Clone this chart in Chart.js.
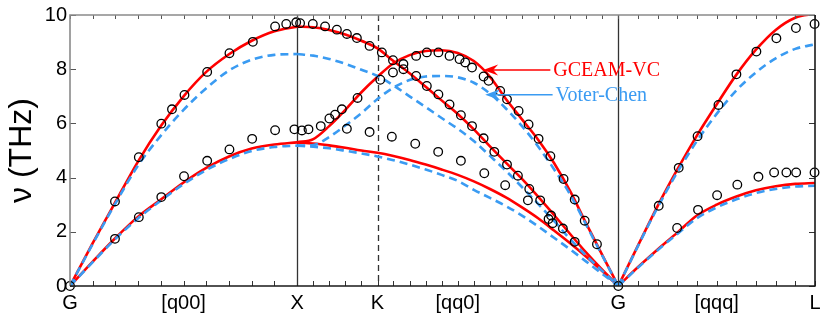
<!DOCTYPE html>
<html>
<head>
<meta charset="utf-8">
<script src="https://cdn.jsdelivr.net/npm/chart.js@4.4.0/dist/chart.umd.min.js"></script>
<style>
  html, body { margin: 0; padding: 0; background: #fff; }
</style>
</head>
<body>
<canvas id="phononChart" width="830" height="325"></canvas>
<script>
// Path positions (2pi/a units): G - X - K - G - L
const tickPos = [0, 0.5, 1, 1.354, 1.707, 2.414, 2.847, 3.280];
const tickLabels = ['G', '[q00]', 'X', 'K', '[qq0]', 'G', '[qqq]', 'L'];
const yTicks = [0, 2, 4, 6, 8, 10];
const solidLines = [1, 2.414];   // X and G
const dashedLines = [1.354];     // K

// G -> X  [q00]
const qGX = [0, 0.1, 0.2, 0.3, 0.4, 0.5, 0.6, 0.7, 0.8, 0.9, 1.0];
const gceamGX_L = [0, 1.58, 3.1, 4.6, 5.9, 7.0, 7.9, 8.55, 9.05, 9.4, 9.57];
const gceamGX_T = [0, 0.9, 1.77, 2.56, 3.19, 3.82, 4.36, 4.78, 5.07, 5.22, 5.3];
const voterGX_L = [0, 1.55, 3.05, 4.45, 5.55, 6.5, 7.3, 7.95, 8.35, 8.53, 8.56];
const voterGX_T = [0, 0.88, 1.74, 2.5, 3.15, 3.76, 4.28, 4.68, 4.98, 5.13, 5.18];

// X -> K -> G  [qq0]
const qXG = [1.000, 1.071, 1.141, 1.212, 1.283, 1.354, 1.424, 1.495, 1.566, 1.636, 1.707,
             1.778, 1.849, 1.919, 1.990, 2.061, 2.131, 2.202, 2.273, 2.343, 2.414];
const gceamXG_1 = [9.57, 9.55, 9.45, 9.28, 9.05, 8.77, 8.3, 7.85, 7.35, 6.85, 6.35,
                   5.78, 5.15, 4.55, 3.95, 3.3, 2.62, 1.92, 1.23, 0.6, 0];
const gceamXG_2 = [5.3, 5.42, 5.9, 6.5, 7.15, 7.72, 8.22, 8.52, 8.67, 8.7, 8.6,
                   8.3, 7.72, 6.9, 6.15, 5.4, 4.54, 3.5, 2.3, 1.15, 0];
const gceamXG_3 = [5.3, 5.26, 5.19, 5.1, 5.0, 4.92, 4.8, 4.65, 4.48, 4.3, 4.1,
                   3.86, 3.58, 3.27, 2.9, 2.5, 2.05, 1.58, 1.08, 0.55, 0];
const voterXG_1 = [8.56, 8.5, 8.38, 8.2, 7.98, 7.75, 7.4, 7.0, 6.6, 6.2, 5.8,
                   5.35, 4.8, 4.25, 3.65, 3.03, 2.4, 1.73, 1.12, 0.56, 0];
const voterXG_2 = [5.18, 5.2, 5.5, 5.92, 6.38, 6.9, 7.32, 7.6, 7.73, 7.75, 7.7,
                   7.5, 7.1, 6.55, 5.9, 5.15, 4.31, 3.38, 2.25, 1.13, 0];
const voterXG_3 = [5.18, 5.14, 5.08, 4.99, 4.89, 4.78, 4.64, 4.48, 4.3, 4.1, 3.88,
                   3.55, 3.25, 2.95, 2.6, 2.2, 1.78, 1.35, 0.9, 0.45, 0];

// G -> L  [qqq]
const qGL = [2.414, 2.501, 2.587, 2.674, 2.760, 2.847, 2.934, 3.020, 3.107, 3.193, 3.280];
const gceamGL_L = [0, 1.5, 2.95, 4.3, 5.55, 6.7, 7.8, 8.72, 9.45, 9.9, 10.05];
const gceamGL_T = [0, 0.7, 1.35, 1.97, 2.6, 3.0, 3.3, 3.53, 3.68, 3.77, 3.8];
const voterGL_L = [0, 1.48, 2.9, 4.2, 5.35, 6.35, 7.22, 7.88, 8.4, 8.75, 8.92];
const voterGL_T = [0, 0.68, 1.32, 1.92, 2.5, 2.9, 3.2, 3.43, 3.58, 3.67, 3.7];

// Experiment (open circles)
const exptQ = [
  0,
  0.198, 0.303, 0.402, 0.449, 0.504, 0.604, 0.702, 0.805, 0.903, 0.952, 0.996, 1.013,
  0.198, 0.303, 0.402, 0.502, 0.604, 0.702, 0.802, 0.903, 0.988, 1.021, 1.050,
  1.069, 1.123, 1.175, 1.219, 1.263, 1.319, 1.373, 1.422, 1.468, 1.524, 1.571, 1.622,
  1.671, 1.721, 1.770, 1.821, 1.868, 1.924, 1.972, 2.022, 2.070, 2.118, 2.170, 2.222,
  1.104, 1.142, 1.167, 1.197, 1.266, 1.366, 1.422, 1.468, 1.524, 1.571, 1.622, 1.671,
  1.715, 1.740, 1.770, 1.821, 1.843, 1.894, 1.924, 1.975, 2.019, 2.063, 2.115, 2.173,
  2.222, 2.266, 2.320,
  1.219, 1.319, 1.417, 1.520, 1.621, 1.721, 1.824, 1.916, 2.016, 2.107, 2.125,
  2.414,
  2.592, 2.680, 2.763, 2.855, 2.934, 3.022, 3.110, 3.196, 3.278,
  2.673, 2.765, 2.849, 2.938, 3.031, 3.100, 3.154, 3.197, 3.278
];
const exptNu = [
  0,
  3.12, 4.75, 5.99, 6.52, 7.05, 7.9, 8.59, 9.01, 9.58, 9.67, 9.73, 9.7,
  1.74, 2.54, 3.28, 4.05, 4.62, 5.04, 5.43, 5.75, 5.78, 5.74, 5.78,
  9.67, 9.58, 9.46, 9.30, 9.15, 8.86, 8.62, 8.33, 8.0, 7.75, 7.38, 7.07,
  6.7, 6.3, 5.9, 5.45, 4.95, 4.48, 4.07, 3.58, 3.16, 2.6, 2.12, 1.63,
  5.9, 6.18, 6.32, 6.52, 6.94, 7.61, 7.88, 8.19, 8.49, 8.62, 8.62, 8.49,
  8.37, 8.25, 8.06, 7.73, 7.57, 7.2, 6.89, 6.46, 5.96, 5.43, 4.79, 3.95,
  3.19, 2.41, 1.54,
  5.8, 5.68, 5.51, 5.25, 4.95, 4.62, 4.16, 3.72, 3.16, 2.47, 2.32,
  0,
  2.96, 4.36, 5.53, 6.68, 7.81, 8.65, 9.14, 9.52, 9.67,
  2.14, 2.81, 3.35, 3.74, 4.03, 4.19, 4.19, 4.19, 4.19
];

// Legend arrows: [tip q, tip nu, text q]
const labelGceam = 'GCEAM-VC';
const labelVoter = 'Voter-Chen';
const arrowGceam = [1.819, 7.97, 2.128];
const arrowVoter = [1.828, 7.06, 2.138];

const RED = '#ff0000';
const BLUE = '#3a9bf2';

const pts = (xs, ys) => xs.map((x, i) => ({ x: x, y: ys[i] }));

const gceamSet = (xs, ys) => ({
    data: pts(xs, ys),
    showLine: true,
    borderColor: RED,
    borderWidth: 2.6,
    pointRadius: 0,
    cubicInterpolationMode: 'monotone',
    order: 3
});
const voterSet = (xs, ys) => ({
    data: pts(xs, ys),
    showLine: true,
    borderColor: BLUE,
    borderWidth: 2.6,
    borderDash: [8, 5],
    pointRadius: 0,
    cubicInterpolationMode: 'monotone',
    order: 2
});

// Cuadro, marcas de eje y flechas de la leyenda
const framePlugin = {
    id: 'frame',
    beforeDatasetsDraw(chart) {
        const { ctx, chartArea: a, scales: { x } } = chart;
        ctx.save();
        ctx.strokeStyle = '#333';
        ctx.lineWidth = 1.3;
        solidLines.forEach(q => {
            const px = Math.round(x.getPixelForValue(q)) + 0.5;
            ctx.beginPath(); ctx.moveTo(px, a.top); ctx.lineTo(px, a.bottom); ctx.stroke();
        });
        ctx.setLineDash([6, 4]);
        dashedLines.forEach(q => {
            const px = Math.round(x.getPixelForValue(q)) + 0.5;
            ctx.beginPath(); ctx.moveTo(px, a.top); ctx.lineTo(px, a.bottom); ctx.stroke();
        });
        ctx.restore();
    },
    afterDatasetsDraw(chart) {
        const { ctx, chartArea: a, scales: { x, y } } = chart;
        ctx.save();
        // minor ticks along top and bottom
        const minor = [...qGX, ...qXG, ...qGL];
        ctx.lineWidth = 1;
        minor.forEach(q => {
            const px = Math.round(x.getPixelForValue(q)) + 0.5;
            ctx.strokeStyle = '#333';
            ctx.beginPath(); ctx.moveTo(px, a.bottom); ctx.lineTo(px, a.bottom - 5); ctx.stroke();
            ctx.strokeStyle = '#555';
            ctx.beginPath(); ctx.moveTo(px, a.top); ctx.lineTo(px, a.top + 4); ctx.stroke();
        });
        yTicks.forEach(v => {
            const py = Math.round(y.getPixelForValue(v)) + 0.5;
            ctx.strokeStyle = '#555';
            ctx.beginPath(); ctx.moveTo(a.left, py); ctx.lineTo(a.left + 6, py); ctx.stroke();
            ctx.strokeStyle = '#333';
            ctx.beginPath(); ctx.moveTo(a.right, py); ctx.lineTo(a.right - 6, py); ctx.stroke();
        });
        // frame
        ctx.strokeStyle = '#8a8a8a';
        ctx.lineWidth = 1.6;
        ctx.beginPath();
        ctx.moveTo(a.left, a.bottom); ctx.lineTo(a.left, a.top); ctx.lineTo(a.right, a.top);
        ctx.stroke();
        ctx.strokeStyle = '#1a1a1a';
        ctx.lineWidth = 1.6;
        ctx.beginPath();
        ctx.moveTo(a.left, a.bottom); ctx.lineTo(a.right, a.bottom); ctx.lineTo(a.right, a.top);
        ctx.stroke();

        // legend arrows
        const drawArrow = (spec, color, text) => {
            const tipX = x.getPixelForValue(spec[0]);
            const tipY = y.getPixelForValue(spec[1]);
            const txtX = x.getPixelForValue(spec[2]);
            ctx.strokeStyle = color;
            ctx.fillStyle = color;
            ctx.lineWidth = 1.5;
            ctx.beginPath(); ctx.moveTo(txtX - 3, tipY); ctx.lineTo(tipX + 8, tipY); ctx.stroke();
            ctx.beginPath();
            ctx.moveTo(tipX, tipY);
            ctx.lineTo(tipX + 15, tipY - 5.5);
            ctx.lineTo(tipX + 10, tipY);
            ctx.lineTo(tipX + 15, tipY + 5.5);
            ctx.closePath();
            ctx.fill();
            ctx.font = '20px "Liberation Serif", "Times New Roman", serif';
            ctx.textAlign = 'left';
            ctx.textBaseline = 'middle';
            ctx.fillText(text, txtX, tipY + 1);
        };
        drawArrow(arrowGceam, RED, labelGceam);
        drawArrow(arrowVoter, BLUE, labelVoter);
        ctx.restore();
    }
};

new Chart(document.getElementById('phononChart'), {
    type: 'scatter',
    data: {
        datasets: [
            {
                data: pts(exptQ, exptNu),
                pointStyle: 'circle',
                pointRadius: 4.3,
                pointBorderWidth: 1.3,
                pointBorderColor: '#000',
                pointBackgroundColor: 'rgba(0,0,0,0)',
                showLine: false,
                clip: false,
                order: 1
            },
            voterSet(qGX, voterGX_L), voterSet(qGX, voterGX_T),
            voterSet(qXG, voterXG_1), voterSet(qXG, voterXG_2), voterSet(qXG, voterXG_3),
            voterSet(qGL, voterGL_L), voterSet(qGL, voterGL_T),
            gceamSet(qGX, gceamGX_L), gceamSet(qGX, gceamGX_T),
            gceamSet(qXG, gceamXG_1), gceamSet(qXG, gceamXG_2), gceamSet(qXG, gceamXG_3),
            gceamSet(qGL, gceamGL_L), gceamSet(qGL, gceamGL_T)
        ]
    },
    options: {
        responsive: false,
        animation: false,
        events: [],
        layout: { padding: { top: 15, right: 15, left: 0, bottom: 0 } },
        plugins: {
            legend: { display: false },
            tooltip: { enabled: false }
        },
        scales: {
            x: {
                type: 'linear',
                min: 0,
                max: 3.28,
                grid: { display: false, drawTicks: false },
                border: { display: false },
                afterFit: s => { s.height = 39; },
                afterBuildTicks: s => { s.ticks = tickPos.map(v => ({ value: v })); },
                ticks: {
                    autoSkip: false,
                    maxRotation: 0,
                    padding: 5,
                    color: '#000',
                    font: { family: '"Liberation Sans", Arial, sans-serif', size: 20 },
                    callback: (v, i) => tickLabels[i]
                }
            },
            y: {
                min: 0,
                max: 10,
                grid: { display: false, drawTicks: false },
                border: { display: false },
                afterFit: s => { s.width = 70; },
                afterBuildTicks: s => { s.ticks = yTicks.map(v => ({ value: v })); },
                ticks: {
                    padding: 3,
                    color: '#000',
                    font: { family: '"Liberation Sans", Arial, sans-serif', size: 20 }
                },
                title: {
                    display: true,
                    text: 'ν (THz)',
                    color: '#000',
                    padding: { top: 3, bottom: 0 },
                    font: { family: '"Liberation Sans", Arial, sans-serif', size: 32 }
                }
            }
        }
    },
    plugins: [framePlugin]
});
</script>
</body>
</html>
